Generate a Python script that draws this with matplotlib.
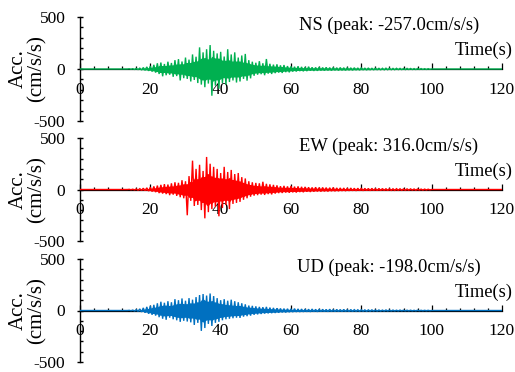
import numpy as np
import matplotlib
matplotlib.use("Agg")
import matplotlib.pyplot as plt
from matplotlib.ticker import MultipleLocator

plt.rcParams['font.family'] = ['Liberation Serif', 'DejaVu Serif']
plt.rcParams['axes.unicode_minus'] = False

# Waveform peaks (cm/s/s), alternating +/- every 0.5 s starting at t = 14 s
t_start = 14.0
t_step = 0.5
t_end = 120.0

ns_vals = [2,-2, 3,-4, 6,-5, 8,-10, 14,-12,
           20,-18, 28,-25, 40,-35, 55,-48, 62,-70,
           48,-60, 70,-55, 58,-75, 85,-68, 95,-110,
           72,-88, 110,-95, 90,-120, 140,-105, 118,-135,
           208,-150, 160,-175, 190,-140, 230,-257, 175,-160,
           150,-190, 165,-135, 120,-150, 190,-125, 140,-110,
           160,-130, 110,-120, 130,-95, 145,-112, 85,-90,
           70,-65, 60,-55, 75,-50, 55,-60, 96,-45,
           50,-48, 42,-40, 45,-35, 35,-38, 38,-30,
           28,-32, 25,-25, 22,-24, 26,-20, 20,-22,
           18,-20, 22,-16, 16,-18, 15,-17, 18,-14,
           14,-15, 16,-13, 13,-15, 15,-12, 12,-14,
           14,-12, 12,-13, 13,-11, 11,-12, 12,-10,
           10,-11, 12,-9, 9,-10, 10,-9, 8,-9,
           9,-8, 8,-9, 7,-8, 8,-7, 7,-7,
           6,-7, 7,-6, 6,-6, 5,-6, 6,-5,
           5,-5, 4,-5, 5,-4, 4,-4, 3,-4,
           3,-3]

ew_vals = [2,-2, 3,-3, 5,-6, 8,-7, 12,-10,
           16,-15, 22,-20, 30,-26, 38,-35, 45,-40,
           52,-45, 48,-55, 60,-50, 70,-62, 65,-75,
           90,-85, 80,-250, 130,-110, 280,-160, 200,-150,
           240,-200, 180,-280, 316,-220, 250,-190, 220,-170,
           200,-260, 160,-180, 220,-150, 170,-190, 190,-140,
           150,-130, 160,-120, 120,-100, 107,-85, 80,-70,
           70,-60, 64,-55, 60,-50, 75,-53, 55,-45,
           50,-48, 45,-40, 40,-35, 32,-34, 35,-30,
           30,-32, 34,-28, 28,-30, 30,-25, 26,-27,
           25,-22, 22,-24, 20,-21, 22,-19, 18,-20,
           20,-18, 18,-19, 17,-16, 19,-17, 15,-16,
           15,-14, 14,-15, 13,-13, 14,-12, 12,-13,
           12,-11, 13,-12, 11,-10, 10,-11, 11,-9,
           9,-10, 10,-9, 9,-8, 8,-9, 8,-8,
           7,-8, 8,-7, 7,-7, 6,-7, 6,-6,
           6,-5, 5,-6, 5,-5, 4,-5, 4,-4,
           3,-3]

ud_vals = [2,-2, 4,-4, 8,-7, 15,-14, 25,-22,
           35,-32, 45,-42, 55,-50, 70,-65, 85,-80,
           75,-90, 90,-70, 80,-85, 110,-95, 100,-110,
           117,-100, 95,-107, 120,-115, 105,-140, 130,-120,
           150,-198, 160,-170, 145,-130, 165,-150, 140,-120,
           120,-110, 100,-95, 110,-85, 95,-80, 105,-75,
           90,-70, 80,-72, 70,-60, 60,-55, 48,-50,
           45,-42, 40,-38, 35,-34, 32,-30, 35,-28,
           28,-26, 25,-24, 22,-22, 20,-18, 18,-19,
           17,-16, 16,-15, 18,-14, 15,-14, 14,-13,
           13,-12, 12,-13, 14,-11, 11,-12, 12,-10,
           11,-10, 10,-11, 12,-9, 9,-10, 10,-9,
           9,-9, 10,-8, 8,-9, 9,-8, 8,-7,
           7,-7, 7,-6, 6,-7, 6,-6, 6,-5,
           5,-5, 5,-5, 4,-5, 5,-4, 4,-4,
           4,-4, 3,-4, 4,-3, 3,-3, 3,-3,
           3,-3, 2,-3, 3,-2, 2,-2, 2,-2,
           2,-2]

components = ["NS", "EW", "UD"]
peaks = ["-257.0", "316.0", "-198.0"]
series = [ns_vals, ew_vals, ud_vals]
colors = ["#00B050", "#FF0000", "#0070C0"]

W, H = 515, 372
fig = plt.figure(figsize=(W / 100, H / 100), dpi=100)

# pixel extents (top, bottom) of each panel
panel_px = [(17, 121), (138, 241), (259, 362)]
left_px, right_px = 80, 502

for i, (comp, pk, vals, col) in enumerate(zip(components, peaks, series, colors)):
    top, bot = panel_px[i]
    ax = fig.add_axes([left_px / W, 1 - bot / H, (right_px - left_px) / W, (bot - top) / H])
    v = np.asarray(vals, dtype=float)
    t = t_start + t_step * np.arange(len(v))
    t = np.concatenate([[0.0, t_start - t_step], t, [t[-1] + t_step, t_end]])
    v = np.concatenate([[0.0, 0.0], v, [0.0, 0.0]])
    # dense core of the record: smallest neighbouring swing
    a = np.abs(v)
    core = np.minimum(np.minimum(a, np.roll(a, 1)), np.roll(a, -1)) * 0.7
    ax.fill_between(t, -core, core, color=col, lw=0, zorder=3)
    ax.plot(t, v, color=col, lw=1.0, solid_joinstyle='miter', zorder=3.1)
    ax.set_xlim(0, 120)
    ax.set_ylim(-500, 500)
    for s in ("top", "right"):
        ax.spines[s].set_visible(False)
    ax.spines["bottom"].set_position(("data", 0))
    ax.spines["left"].set_position(("data", 0))
    ax.spines["bottom"].set_linewidth(0.9)
    ax.spines["left"].set_linewidth(1.0)
    ax.xaxis.set_major_locator(MultipleLocator(20))
    ax.xaxis.set_minor_locator(MultipleLocator(4))
    ax.yaxis.set_major_locator(MultipleLocator(500))
    ax.yaxis.set_minor_locator(MultipleLocator(100))
    ax.tick_params(axis="x", which="major", direction="in", length=4, width=0.9,
                   labelsize=12.5, pad=9)
    ax.tick_params(axis="x", which="minor", direction="in", length=2.5, width=0.9)
    ax.tick_params(axis="y", which="major", direction="inout", length=5, width=1.0,
                   labelsize=12.5, pad=8)
    ax.tick_params(axis="y", which="minor", direction="in", length=2.5, width=1.0)
    ax.patch.set_visible(False)

    ax.text(0.732, 0.92, f"{comp} (peak: {pk}cm/s/s)", transform=ax.transAxes,
            ha="center", va="center", fontsize=13.3)
    ax.text(1.026, 0.68, "Time(s)", transform=ax.transAxes,
            ha="right", va="center", fontsize=13.3)
    ycen = (top + bot) / 2
    fig.text(28 / W, 1 - ycen / H, "Acc.\n(cm/s/s)", rotation=90, ha="center",
             va="center", multialignment="center", fontsize=15, linespacing=0.95)

fig.savefig("out.png", dpi=100)
